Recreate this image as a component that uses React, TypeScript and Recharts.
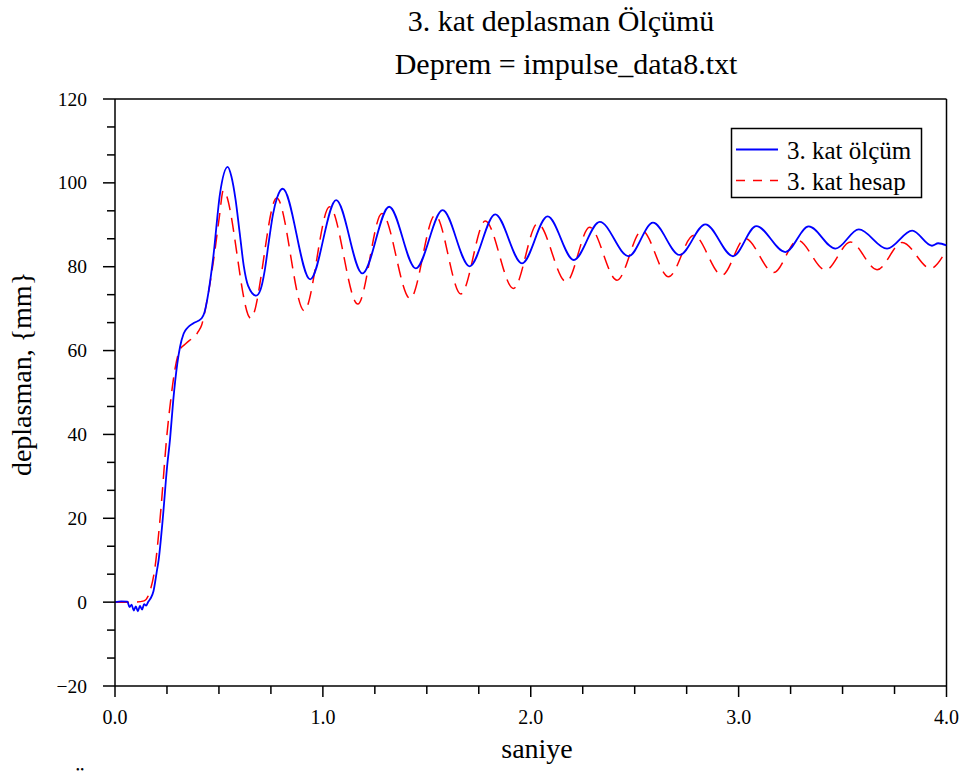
import React from 'react';
import { LineChart, Line, XAxis, YAxis, ReferenceLine } from 'recharts';

const chartTitle = '3. kat deplasman Ölçümü';
const chartSubtitle = 'Deprem = impulse_data8.txt';
const xLabel = 'saniye';
const yLabel = 'deplasman, {mm}';
const seriesNames = ['3. kat ölçüm', '3. kat hesap'];

// measured (blue)
const measuredT = [
  0, 0.03, 0.06, 0.07, 0.08, 0.09, 0.1, 0.11, 0.12, 0.13, 0.14, 0.15, 0.16, 0.17, 0.185, 0.2, 0.21,
  0.23, 0.25, 0.265, 0.28, 0.3, 0.313, 0.33, 0.35, 0.377, 0.417, 0.43, 0.45, 0.473, 0.505, 0.542,
  0.56, 0.58, 0.6, 0.62, 0.64, 0.679, 0.7, 0.72, 0.74, 0.76, 0.78, 0.807,
  0.939, 1.064, 1.19, 1.319, 1.447, 1.576, 1.706, 1.829, 1.958, 2.081, 2.207, 2.332, 2.471, 2.588,
  2.716, 2.84, 2.973, 3.085, 3.225, 3.337, 3.466, 3.578, 3.714, 3.835, 3.93, 3.96, 4.0,
];
const measuredV = [
  0, 0.2, 0.1, -1.2, -0.6, -2.0, -1.0, -2.2, -0.9, -1.8, -0.5, -0.8, 0.1, 0.8, 2.6, 7, 10.1,
  20, 32, 39, 48, 57, 60.9, 64, 65.5, 66.5, 67.7, 69, 74, 82.4, 97.4, 103.8,
  101.5, 96, 88, 80, 75.5, 73.1, 74.5, 79, 86, 92.5, 96.5, 98.6,
  77.0, 95.9, 78.4, 94.3, 79.6, 93.5, 80.1, 92.5, 80.8, 92.0, 81.6, 90.7, 82.5, 90.5,
  82.8, 90.1, 82.5, 89.7, 83.5, 89.6, 84.3, 88.9, 84.3, 88.6, 85.0, 85.6, 85.1,
];

// computed (red dashed)
const computedT = [
  0, 0.1, 0.14, 0.168, 0.193, 0.217, 0.25, 0.27, 0.29, 0.31, 0.337, 0.36, 0.385, 0.4, 0.417, 0.437,
  0.457, 0.481, 0.502, 0.521,
  0.653, 0.778, 0.91, 1.032, 1.168, 1.284, 1.42, 1.54, 1.664, 1.781, 1.917, 2.033, 2.171, 2.283,
  2.415, 2.535, 2.663, 2.784, 2.92, 3.032, 3.169, 3.284, 3.418, 3.538, 3.666, 3.787, 3.923, 4.0,
];
const computedV = [
  0, 0, 0.3, 2.6, 8.5, 20, 40, 49, 56, 60, 61.5, 62.5, 63.3, 64.5, 66.1, 70.5,
  76, 84, 91.9, 98.2,
  67.7, 96.4, 69.5, 94.3, 71.1, 92.7, 72.4, 92.3, 73.5, 90.9, 74.8, 90.3, 76.4, 89.4,
  76.8, 88.6, 77.6, 87.5, 78.0, 86.7, 78.6, 86.3, 79.2, 85.9, 79.3, 85.8, 79.6, 84.0,
];

const xTicks = [0, 0.25, 0.5, 0.75, 1, 1.25, 1.5, 1.75, 2, 2.25, 2.5, 2.75, 3, 3.25, 3.5, 3.75, 4];
const yMajorTicks = [-20, 0, 20, 40, 60, 80, 100, 120];
const yMinorPerMajor = 3;

const measuredData = measuredT.map((t, i) => ({ t, v: measuredV[i] }));
const computedData = computedT.map((t, i) => ({ t, v: computedV[i] }));
const yTicks: number[] = [];
yMajorTicks.forEach((m, i) => {
  yTicks.push(m);
  if (i < yMajorTicks.length - 1) {
    const step = (yMajorTicks[i + 1] - m) / yMinorPerMajor;
    for (let k = 1; k < yMinorPerMajor; k++) yTicks.push(m + step * k);
  }
});

const FONT = "'Liberation Serif', 'Times New Roman', serif";
const BLUE = '#0000ff';
const RED = '#ff0000';

const isMajorX = (v: number) => Math.abs(v - Math.round(v)) < 1e-6;
const isMajorY = (v: number) => yMajorTicks.some((m) => Math.abs(m - v) < 1e-6);

const XTick = (props: any) => {
  const { x, y, payload } = props;
  const v = payload.value as number;
  const major = isMajorX(v);
  return (
    <g>
      <line x1={x} x2={x} y1={y} y2={y + (major ? 11 : 8)} stroke="#000" strokeWidth={1.5} />
      {major && (
        <text x={x} y={y + 38} textAnchor="middle" style={{ fontFamily: FONT, fontSize: 20 }} fill="#000">
          {v.toFixed(1)}
        </text>
      )}
    </g>
  );
};

const YTick = (props: any) => {
  const { x, y, payload } = props;
  const v = payload.value as number;
  const major = isMajorY(v);
  const label = v < 0 ? '\u2212' + Math.abs(Math.round(v)) : String(Math.round(v));
  return (
    <g>
      <line x1={x - (major ? 12 : 8)} x2={x} y1={y} y2={y} stroke="#000" strokeWidth={1.5} />
      {major && (
        <text x={x - 28} y={y + 6.5} textAnchor="end" style={{ fontFamily: FONT, fontSize: 19.5 }} fill="#000">
          {label}
        </text>
      )}
    </g>
  );
};

const txt = (size: number) => ({ fontFamily: FONT, fontSize: size });

export default function App() {
  return (
    <div style={{ position: 'absolute', left: 0, top: 0, width: 961, height: 772, background: '#fff' }}>
      <LineChart
        width={961}
        height={772}
        margin={{ top: 99, right: 14.5, bottom: 46, left: 55 }}
      >
        <XAxis
          dataKey="t"
          type="number"
          domain={[0, 4]}
          ticks={xTicks}
          interval={0}
          tickSize={0}
          tickMargin={0}
          tick={<XTick />}
          height={40}
          axisLine={{ stroke: '#000', strokeWidth: 1.5 }}
          allowDataOverflow
        />
        <YAxis
          type="number"
          domain={[-20, 120]}
          ticks={yTicks}
          interval={0}
          tickSize={0}
          tickMargin={0}
          tick={<YTick />}
          width={60}
          axisLine={{ stroke: '#000', strokeWidth: 1.5 }}
          allowDataOverflow
        />
        <ReferenceLine y={120} stroke="#000" strokeWidth={1.5} />
        <ReferenceLine x={4} stroke="#000" strokeWidth={1.5} />
        <Line
          data={computedData}
          dataKey="v"
          type="monotone"
          stroke={RED}
          strokeWidth={1.5}
          strokeDasharray="14 8"
          dot={false}
          isAnimationActive={false}
        />
        <Line
          data={measuredData}
          dataKey="v"
          type="monotone"
          stroke={BLUE}
          strokeWidth={1.8}
          dot={false}
          isAnimationActive={false}
        />
      </LineChart>
      <svg
        width={961}
        height={772}
        style={{ position: 'absolute', left: 0, top: 0, pointerEvents: 'none' }}
      >
        <text x={561} y={31} textAnchor="middle" style={txt(30)} fill="#000">
          {chartTitle}
        </text>
        <text x={566} y={74} textAnchor="middle" style={txt(30)} fill="#000">
          {chartSubtitle}
        </text>
        <text x={537} y={758} textAnchor="middle" style={txt(28)} fill="#000">
          {xLabel}
        </text>
        <text
          x={31}
          y={374}
          transform="rotate(-90, 31, 374)"
          textAnchor="middle"
          style={txt(28)}
          fill="#000"
        >
          {yLabel}
        </text>
        <text x={71} y={789} style={txt(25)} fill="#000">
          Ö
        </text>
        <rect x={731.5} y={128.5} width={190} height={69} fill="#fff" stroke="#000" strokeWidth={1.5} />
        <line x1={736} x2={778} y1={149.5} y2={149.5} stroke={BLUE} strokeWidth={1.8} />
        <line x1={736} x2={778} y1={180.5} y2={180.5} stroke={RED} strokeWidth={1.5} strokeDasharray="9 8" />
        <text x={787} y={159} style={txt(25)} fill="#000">
          {seriesNames[0]}
        </text>
        <text x={787} y={190} style={txt(25)} fill="#000">
          {seriesNames[1]}
        </text>
      </svg>
    </div>
  );
}
